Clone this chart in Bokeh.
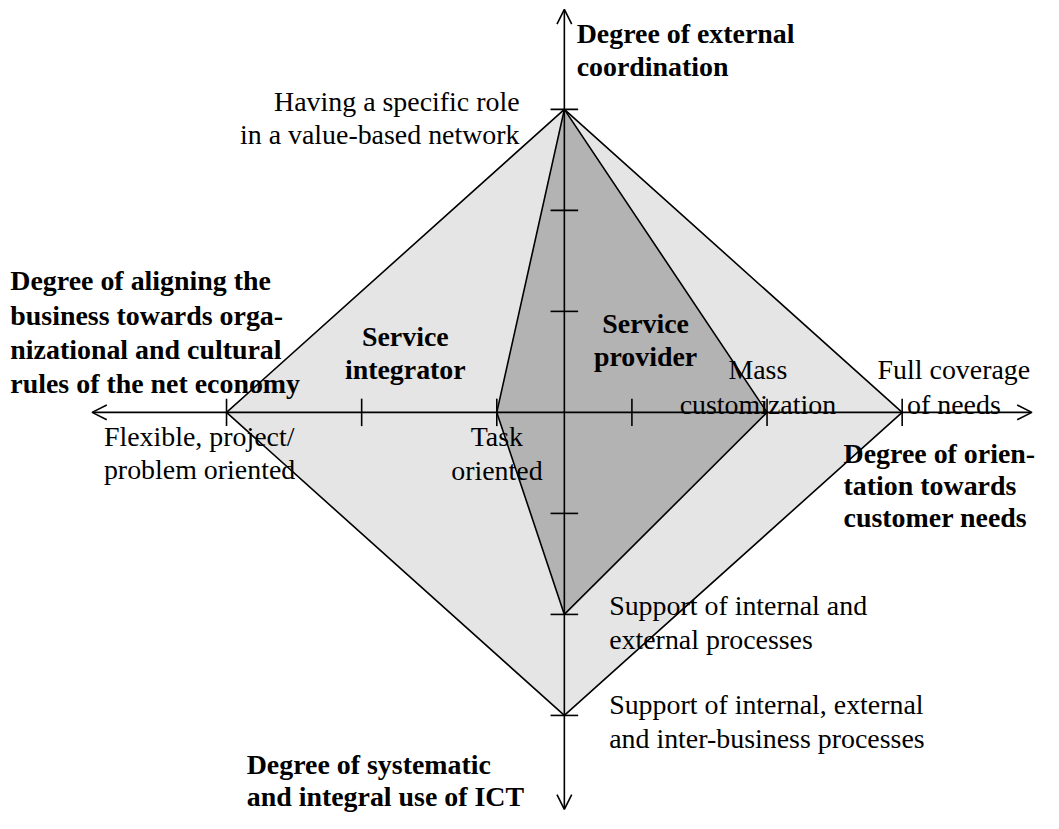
from bokeh.plotting import figure
from bokeh.models import Range1d, Arrow, OpenHead
from bokeh.core.properties import value
from bokeh.embed import file_html
from bokeh.resources import INLINE

# ---------------- data (chart units) ----------------
# axis extents (arrow tips) in chart units
axis_up, axis_down = 3.99, -3.93
axis_left, axis_right = -6.99, 6.92
# tick positions along each axis
h_ticks = [-5, -3, -1, 1, 3, 5]
v_ticks = [-3, -2, -1, 1, 2, 3]
# profiles: [up, right, down, left]
integrator = [3, 5, -3, -5]
provider = [3, 3, -2, -1]

axis_title_up = ["Degree of external", "coordination"]
axis_title_right = ["Degree of orien-", "tation towards", "customer needs"]
axis_title_down = ["Degree of systematic", "and integral use of ICT"]
axis_title_left = ["Degree of aligning the", "business towards orga-",
                   "nizational and cultural", "rules of the net economy"]
level_up_3 = ["Having a specific role", "in a value-based network"]
level_right_3 = ["Mass", "customization"]
level_right_5 = ["Full coverage", "of needs"]
level_left_1 = ["Task", "oriented"]
level_left_5 = ["Flexible, project/", "problem oriented"]
level_down_2 = ["Support of internal and", "external processes"]
level_down_3 = ["Support of internal, external", "and inter-business processes"]
profile_names = [["Service", "integrator"], ["Service", "provider"]]

# ---------------- layout ----------------
W, H = 1043, 813          # figure size (fits the window with 8px margin)
RW, RH = 1059, 829        # design canvas the layout is laid out on
S = min(W / RW, H / RH)
CX, CY = 572.5, 420.0     # canvas px of origin
UX, UY = 68.6, 103.0      # canvas px per unit


def dx(px):
    return (px - CX) / UX


def dy(py):
    return (CY - py) / UY


p = figure(width=W, height=H, output_backend="svg", toolbar_location=None,
           x_range=Range1d(dx(0), dx(RW)), y_range=Range1d(dy(RH), dy(0)),
           x_axis_type=None, y_axis_type=None, min_border=0)
p.outline_line_color = None
p.grid.visible = False
p.background_fill_color = "white"
p.border_fill_color = "white"

LIGHT = "#e5e5e5"
DARK = "#b3b3b3"
LW = 1.6


def diamond(vals):
    up, right, down, left = vals
    return [0, right, 0, left], [up, 0, down, 0]


xs, ys = diamond(integrator)
p.patch(xs, ys, fill_color=LIGHT, line_color="black", line_width=LW)
xs, ys = diamond(provider)
p.patch(xs, ys, fill_color=DARK, line_color="black", line_width=LW)

# axes with open arrow heads
for (x1, y1) in [(0, axis_up), (0, axis_down), (axis_left, 0), (axis_right, 0)]:
    p.add_layout(Arrow(end=OpenHead(size=15 * S, line_width=LW, line_color="black"),
                       x_start=0, y_start=0, x_end=x1, y_end=y1,
                       line_width=LW, line_color="black"))

# ticks (14 canvas px each side)
tx = 14 / UX
ty = 14 / UY
p.segment(x0=h_ticks, y0=[-ty] * len(h_ticks), x1=h_ticks, y1=[ty] * len(h_ticks),
          line_color="black", line_width=LW)
p.segment(x0=[-tx] * len(v_ticks), y0=v_ticks, x1=[tx] * len(v_ticks), y1=v_ticks,
          line_color="black", line_width=LW)

FONT = value("Liberation Serif")
FS = "%.1fpx" % (28.5 * S)


def label(lines, x_px, y0_px, step, align="left", bold=False):
    n = len(lines)
    p.text(x=[dx(x_px)] * n, y=[dy(y0_px + i * step) for i in range(n)], text=lines,
           text_font=FONT, text_font_size=FS,
           text_font_style="bold" if bold else "normal",
           text_align=align, text_baseline="alphabetic", text_color="black")


label(axis_title_up, 585, 34, 33, "left", True)
label(axis_title_left, 10, 286, 34.7, "left", True)
label(axis_title_right, 856, 462, 32.5, "left", True)
label(axis_title_down, 250, 779, 33, "left", True)

label(profile_names[0], 411, 343, 33, "center", True)
label(profile_names[1], 655, 329, 34, "center", True)

label(level_up_3, 527, 103, 34, "right")
label(level_right_3, 769, 376, 35.5, "center")
label(level_right_5, 968, 376, 35.5, "center")
label(level_left_1, 504, 445, 34, "center")
label(level_left_5, 105, 445, 33.5, "left")
label(level_down_2, 618, 617, 35, "left")
label(level_down_3, 618, 718, 35, "left")

open("out.html", "w").write(file_html(p, INLINE))
